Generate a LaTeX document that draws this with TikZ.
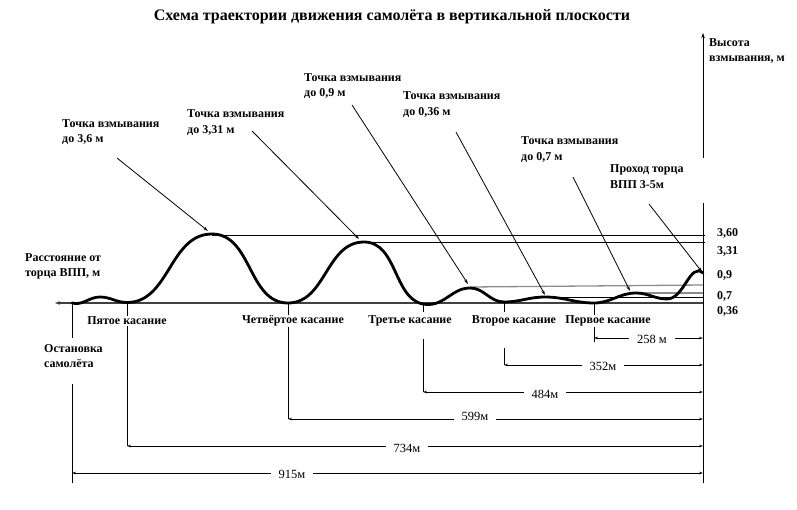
\documentclass[tikz,border=0pt]{standalone}
\usepackage{fontspec}
\setmainfont{Liberation Serif}
\usetikzlibrary{arrows.meta}
\begin{document}
\begin{tikzpicture}[x=1pt,y=-1pt,
  lbl/.style={font=\bfseries\fontsize{12}{15.5}\selectfont, align=left, inner sep=0pt, anchor=west},
  touch/.style={font=\bfseries\fontsize{12}{15}\selectfont, inner sep=1pt, fill=white},
  val/.style={font=\bfseries\fontsize{12}{15}\selectfont, inner sep=0pt, anchor=west},
  dimlbl/.style={font=\fontsize{12.5}{15}\selectfont, fill=white, inner xsep=8pt, inner ysep=1pt},
  thin line/.style={line width=0.8pt},
  tip/.style={-{Stealth[length=5pt,width=3pt]}},
  dim/.style={line width=0.8pt,{Stealth[length=4pt,width=2.5pt]}-{Stealth[length=4pt,width=2.5pt]}},
  trace/.style={line width=2.8pt, line cap=round, line join=round},
  level/.style={line width=0.9pt},
  greylevel/.style={line width=1.3pt, draw=black!45},
]
\useasboundingbox (0,0) rectangle (797,510);

% title
\node[font=\bfseries\fontsize{16}{19}\selectfont, inner sep=0pt] (title) at (392,17) {Схема траектории движения самолёта в вертикальной плоскости};

% curve key points
\coordinate (p0) at (72,303);
\coordinate (p1) at (100,297);
\coordinate (p2) at (127,302.5);
\coordinate (p3) at (212,234);
\coordinate (p4) at (288,303);
\coordinate (p5) at (364,242);
\coordinate (p6) at (428,304.5);
\coordinate (p7) at (470,288);
\coordinate (p8) at (504,302);
\coordinate (p9) at (545,297);
\coordinate (p10) at (594,303);
\coordinate (p11) at (636,293);
\coordinate (p12) at (667,299);
\coordinate (p13) at (703,273);

% axes
\coordinate (gR) at (703,303);
\coordinate (gL) at (55,303);
\draw[line width=1.2pt, draw=black!75, -{Stealth[length=5pt,width=3.5pt]}] (gR) -- (gL);
\coordinate (yB) at (703,483);
\coordinate (yG1) at (703,203);
\coordinate (yG2) at (703,158);
\coordinate (yT) at (703,33);
\draw[thin line] (yB) -- (yG1);
\draw[thin line, -{Stealth[length=5pt,width=3.5pt]}] (yG2) -- (yT);

% level lines
\coordinate (l360a) at (212,235); \coordinate (l360b) at (705,235);
\coordinate (l331a) at (364,242); \coordinate (l331b) at (705,242);
\draw[level] (l360a) -- (l360b);
\draw[level] (l331a) -- (l331b);
\coordinate (l09a) at (470,287); \coordinate (l09b) at (703,285);
\coordinate (l07a) at (630,293); \coordinate (l07b) at (703,293);
\coordinate (l036a) at (545,297); \coordinate (l036b) at (703,297);
\draw[greylevel] (l09a) -- (l09b);
\draw[greylevel] (l07a) -- (l07b);
\draw[level] (l036a) -- (l036b);

% trajectory
\draw[trace] (p0) to[out=-15,in=180] (p1) to[out=0,in=180] (p2)
  to[out=0,in=180] (p3) to[out=0,in=180] (p4) to[out=0,in=180] (p5)
  to[out=0,in=180] (p6) to[out=0,in=180] (p7) to[out=0,in=180] (p8)
  to[out=0,in=180] (p9) to[out=0,in=180] (p10) to[out=0,in=180] (p11)
  to[out=0,in=180] (p12) to[out=0,in=140] (p13);

% value labels
\node[val] (v360) at (717,233) {3,60};
\node[val] (v331) at (717,251) {3,31};
\node[val] (v09) at (717,275) {0,9};
\node[val] (v07) at (717,296) {0,7};
\node[val] (v036) at (717,311) {0,36};

% axis labels
\node[lbl] (ylab) at (709,51) {Высота\\взмывания, м};
\node[lbl] (xlab) at (25,266.5) {Расстояние от\\торца ВПП, м};

% callouts
\node[lbl] (c1) at (62,132) {Точка взмывания\\до 3,6 м};
\node[lbl] (c2) at (187,122.5) {Точка взмывания\\до 3,31 м};
\node[lbl] (c3) at (304,86) {Точка взмывания\\до 0,9 м};
\node[lbl] (c4) at (403,104.5) {Точка взмывания\\до 0,36 м};
\node[lbl] (c5) at (521,149.5) {Точка взмывания\\до 0,7 м};
\node[lbl] (c6) at (610,176.5) {Проход торца\\ВПП 3-5м};
\coordinate (s1) at (117,158); \coordinate (e1) at (208,231);
\coordinate (s2) at (252,131); \coordinate (e2) at (359,239);
\coordinate (s3) at (352,105); \coordinate (e3) at (468,284);
\coordinate (s4) at (456,132); \coordinate (e4) at (545,295);
\coordinate (s5) at (573,177); \coordinate (e5) at (630,291);
\coordinate (s6) at (649,204); \coordinate (e6) at (702,272);
\draw[thin line, tip] (s1) -- (e1);
\draw[thin line, tip] (s2) -- (e2);
\draw[thin line, tip] (s3) -- (e3);
\draw[thin line, tip] (s4) -- (e4);
\draw[thin line, tip] (s5) -- (e5);
\draw[thin line, tip] (s6) -- (e6);

% touchdown ticks
\coordinate (t0a) at (72,303); \coordinate (t0b) at (72,338);
\coordinate (t0c) at (72,384); \coordinate (t0d) at (72,483);
\draw[thin line] (t0a) -- (t0b); \draw[thin line] (t0c) -- (t0d);
\coordinate (t5a) at (127,303); \coordinate (t5b) at (127,446);
\coordinate (t4a) at (288,303); \coordinate (t4b) at (288,419);
\coordinate (t3a) at (423,303); \coordinate (t3b) at (423,312);
\coordinate (t3c) at (423,339); \coordinate (t3d) at (423,392);
\coordinate (t2a) at (504,303); \coordinate (t2b) at (504,312);
\coordinate (t2c) at (504,348); \coordinate (t2d) at (504,365);
\coordinate (t1a) at (594,303); \coordinate (t1b) at (594,342);
\draw[thin line] (t5a) -- (t5b);
\draw[thin line] (t4a) -- (t4b);
\draw[thin line] (t3a) -- (t3b); \draw[thin line] (t3c) -- (t3d);
\draw[thin line] (t2a) -- (t2b); \draw[thin line] (t2c) -- (t2d);
\draw[thin line] (t1a) -- (t1b);

\node[touch] (k5) at (127,321) {Пятое касание};
\node[touch] (k4) at (293,321) {Четвёртое касание};
\node[touch] (k3) at (410,321) {Третье касание};
\node[touch] (k2) at (514,321) {Второе касание};
\node[touch] (k1) at (608,321) {Первое касание};
\node[lbl, fill=white, inner sep=1pt] (stop) at (43,356) {Остановка\\самолёта};

% dimension lines
\coordinate (d1l) at (594,338); \coordinate (d1r) at (703,338);
\coordinate (d2l) at (504,365); \coordinate (d2r) at (703,365);
\coordinate (d3l) at (423,392); \coordinate (d3r) at (703,392);
\coordinate (d4l) at (288,419); \coordinate (d4r) at (703,419);
\coordinate (d5l) at (127,446); \coordinate (d5r) at (703,446);
\coordinate (d6l) at (72,473);  \coordinate (d6r) at (703,473);
\draw[dim] (d1l) -- (d1r);
\draw[dim] (d2l) -- (d2r);
\draw[dim] (d3l) -- (d3r);
\draw[dim] (d4l) -- (d4r);
\draw[dim] (d5l) -- (d5r);
\draw[dim] (d6l) -- (d6r);
\node[dimlbl] (m1) at (652,339) {258 м};
\node[dimlbl] (m2) at (603,366) {352м};
\node[dimlbl] (m3) at (545,394) {484м};
\node[dimlbl] (m4) at (475,416) {599м};
\node[dimlbl] (m5) at (407,448) {734м};
\node[dimlbl] (m6) at (292,474) {915м};
\end{tikzpicture}
\end{document}
